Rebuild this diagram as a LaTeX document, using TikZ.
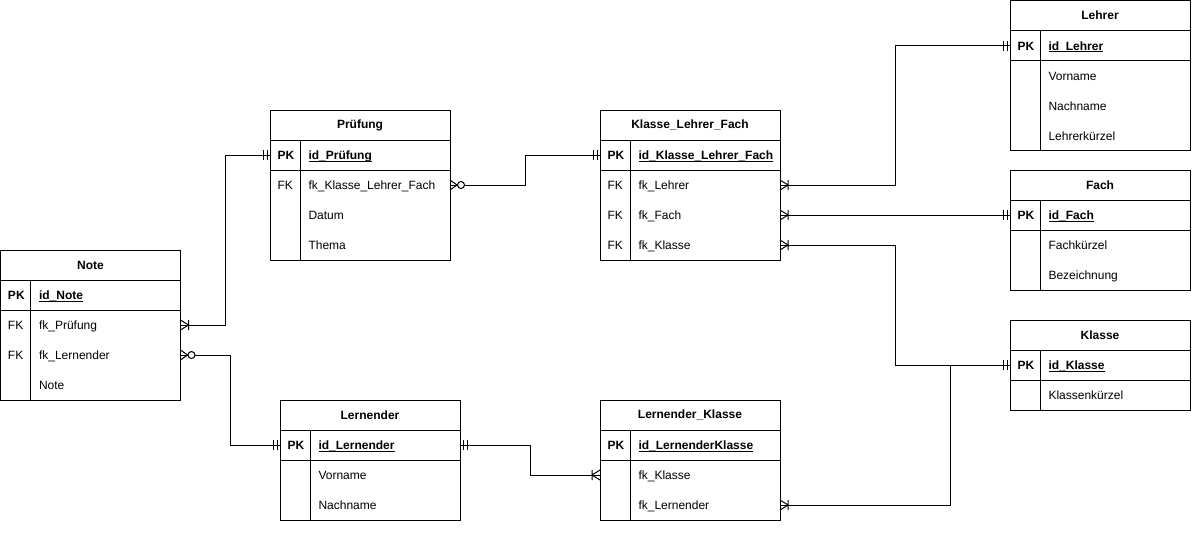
\documentclass[tikz,border=0pt,12pt]{standalone}
\usepackage{fontspec}
\setmainfont{Liberation Sans}
\usetikzlibrary{positioning,calc}

% one entity: name, top left corner, title, primary key, key/field rows
\newcommand{\ertable}[5]{%
  \node[head] (#1) at (#2) {#3};
  \node[row, draw, below=0pt of #1, label={[key, font=\bfseries]west:PK},
        label={[field]west:\underline{\smash{\textbf{#4}}}}] (#1-pk) {};
  \foreach \k/\f [count=\i] in {#5} {
    \node[row, label={[key]west:\k}, label={[field]west:\f}]
      (#1-\i) at ($(#1-pk.south)+(0,30*\i-15)$) {};
    \xdef\lastrow{\i}
  }
  \draw (#1-pk.south west) rectangle (#1-\lastrow.south east);
  \draw ([xshift=30pt]#1-pk.north west) -- ([xshift=30pt]#1-\lastrow.south west);
}

\begin{document}
\begin{tikzpicture}[x=1pt, y=-1pt, line width=1pt]
  \tikzset{
    row/.style={minimum width=180pt, minimum height=30pt, inner sep=0pt, outer sep=0pt},
    head/.style={row, draw, anchor=north west, font=\bfseries},
    key/.style={anchor=base west, xshift=7pt, yshift=-4.5pt, inner sep=0pt},
    field/.style={anchor=base west, xshift=38pt, yshift=-4.5pt, inner sep=0pt},
    mone/.pic={\draw (3,-5) -- (3,5) (7,-5) -- (7,5);},
    onemany/.pic={\draw (0,-5) -- (8,0) -- (0,5) (8,-5) -- (8,5);},
    zeromany/.pic={\draw (0,-5) -- (7,0) -- (0,5); \draw[fill=white] (11,0) circle (3.5);}
  }
  \useasboundingbox (0,0) rectangle (1202,533);

  \ertable{note}{0.5,250}{Note}{id\_Note}{FK/fk\_Prüfung, FK/fk\_Lernender, /Note}
  \ertable{pruefung}{270,110}{Prüfung}{id\_Prüfung}{FK/fk\_Klasse\_Lehrer\_Fach, /Datum, /Thema}
  \ertable{klf}{600,110}{Klasse\_Lehrer\_Fach}{id\_Klasse\_Lehrer\_Fach}{FK/fk\_Lehrer, FK/fk\_Fach, FK/fk\_Klasse}
  \ertable{lehrer}{1010,0.5}{Lehrer}{id\_Lehrer}{/Vorname, /Nachname, /Lehrerkürzel}
  \ertable{fach}{1010,170}{Fach}{id\_Fach}{/Fachkürzel, /Bezeichnung}
  \ertable{klasse}{1010,320}{Klasse}{id\_Klasse}{/Klassenkürzel}
  \ertable{lernender}{280,400}{Lernender}{id\_Lernender}{/Vorname, /Nachname}
  \ertable{lk}{600,400}{Lernender\_Klasse}{id\_LernenderKlasse}{/fk\_Klasse, /fk\_Lernender}

  % relations
  \draw (note-1.east) -- ++(45,0) |- (pruefung-pk.west);
  \draw (note-2.east) -- ++(50,0) |- (lernender-pk.west);
  \draw (pruefung-1.east) -- ++(75,0) |- (klf-pk.west);
  \draw (klf-1.east) -- ++(115,0) |- (lehrer-pk.west);
  \draw (klf-2.east) -- (fach-pk.west);
  \draw (klf-3.east) -- ++(115,0) |- (klasse-pk.west);
  \draw (lk-2.east) -- ++(170,0) |- (klasse-pk.west);
  \draw (lernender-pk.east) -- ++(70,0) |- (lk-1.west);

  % line ends
  \pic at (note-1.east) {onemany};
  \pic at (note-2.east) {zeromany};
  \pic at (pruefung-1.east) {zeromany};
  \pic at (klf-1.east) {onemany};
  \pic at (klf-2.east) {onemany};
  \pic at (klf-3.east) {onemany};
  \pic at (lk-2.east) {onemany};
  \pic at (lernender-pk.east) {mone};
  \pic[rotate=180] at (lk-1.west) {onemany};
  \foreach \t in {pruefung, lernender, klf, lehrer, fach, klasse}
    \pic[rotate=180] at (\t-pk.west) {mone};
\end{tikzpicture}
\end{document}
